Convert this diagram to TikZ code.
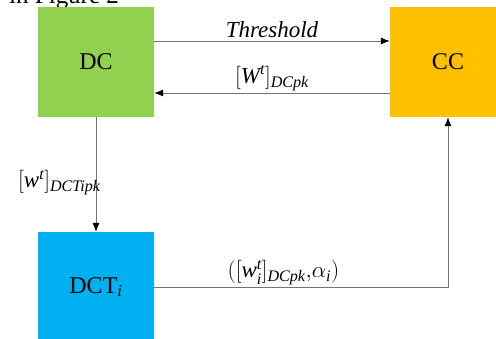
\documentclass[tikz,border=0pt]{standalone}
\usepackage{fix-cm}
\usepackage{amsmath}
\usepackage{fontspec}
\setmainfont{Liberation Serif}
\usetikzlibrary{arrows.meta}
\definecolor{dcgreen}{HTML}{92D050}
\definecolor{ccorange}{HTML}{FFC000}
\definecolor{dctblue}{HTML}{00B0F0}
\newcommand{\iv}[1]{\textit{#1}}
\tikzset{
  box/.style={minimum width=116pt, minimum height=110pt, inner sep=0pt,
    font=\fontsize{24}{28}\selectfont},
  link/.style={draw=black!55, line width=0.8pt,
    -{Latex[black,length=9pt,width=7pt]}},
  lbl/.style={font=\fontsize{23}{27}\selectfont, inner sep=0pt}
}

\begin{document}
\begin{tikzpicture}[x=1pt,y=-1pt]
  \useasboundingbox (0,0) rectangle (496,338);
  \clip (0,0) rectangle (496,338);

  % text of the page above, cut off
  \node[anchor=base west, inner sep=0pt, font=\fontsize{25}{29}\selectfont] (cap) at (9,3) {in Figure 2};

  % the three centres
  \node[box, fill=dcgreen] (dc) at (96,62) {DC};
  \node[box, fill=ccorange] (cc) at (448,62) {CC};
  \node[box, fill=dctblue] (dct) at (96,287) {DCT$_{\iv{i}}$};

  \draw[link] ([yshift=21pt]dc.east) -- node[lbl, above=3pt] {\iv{Threshold}} ([yshift=21pt]cc.west);
  \draw[link] ([yshift=-31pt]cc.west) -- node[lbl, above=2pt] {$[\iv{W}^{\iv{t}}]_{\iv{DCpk}}$} ([yshift=-31pt]dc.east);
  \draw[link] (dc.south) -- node[lbl, pos=0.57, anchor=east, xshift=5pt] {$[\iv{w}^{\iv{t}}]_{\iv{DCTipk}}$} (dct.north);
  \draw[link] (dct.east) -| node[lbl, pos=0.22, above=2pt] {$([\iv{w}_{\iv{i}}^{\iv{t}}]_{\iv{DCpk}}\mathord{,}\alpha_{\iv{i}})$} (cc.south);
\end{tikzpicture}
\end{document}
